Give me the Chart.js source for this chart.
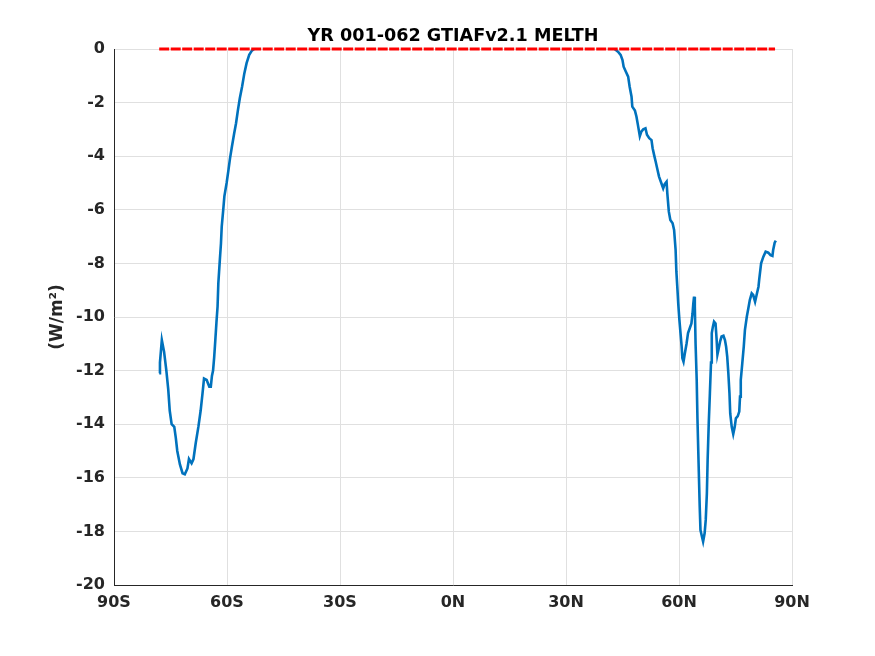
<!DOCTYPE html>
<html lang="en">
<head>
<meta charset="UTF-8">
<title>YR 001-062 GTIAFv2.1 MELTH</title>
<script src="https://cdn.jsdelivr.net/npm/chart.js@4/dist/chart.umd.min.js"></script>
<style>
  body {
    margin: 0;
    padding: 0;
    background-color: #ffffff;
  }
</style>
</head>
<body>
<canvas id="melthChart" width="875" height="656"></canvas>
<script>
// zonal mean melt heat flux (W/m^2) by latitude
// (null = no melt, hidden under the zero line)
const lats = [
  -78.0, -77.8, -77.3, -76.7, -76.1, -75.6, -75.2, -74.7, -74.0, -73.6,
  -73.2, -72.5, -71.8, -71.2, -70.5, -70.1, -69.4, -68.9, -68.3, -67.6,
  -67.0, -66.5, -66.1, -65.4, -64.7, -64.3, -64.0, -63.7, -63.4, -63.1,
  -62.8, -62.5, -62.3, -61.9, -61.6, -61.4, -61.0, -60.7, -60.1, -59.6,
  -59.2, -58.7, -58.1, -57.6, -57.1, -56.6, -56.0, -55.4, -54.8, -54.1,
  -53.4, -52.8,
  0, 42.9,
  43.8, 44.5, 45.0, 45.3, 45.9, 46.5, 46.9, 47.4, 47.6, 48.3,
  48.7, 49.1, 49.6, 50.0, 50.5, 51.1, 51.5, 52.1, 52.7, 53.0,
  53.4, 53.8, 54.2, 54.7, 55.3, 55.8, 56.2, 56.7, 56.9, 57.3,
  57.7, 58.3, 58.7, 59.1, 59.3, 59.6, 59.8, 60.1, 60.4, 60.7,
  60.9, 61.2, 61.5, 62.0, 62.4, 62.9, 63.3, 63.6, 63.8, 64.0,
  64.2, 64.4, 64.7, 64.9, 65.2, 65.5, 65.7, 66.1, 66.4, 66.8,
  67.1, 67.4, 67.6, 67.9, 68.2, 68.5, 68.7, 69.0, 69.3, 69.7,
  70.0, 70.2, 70.5, 70.9, 71.3, 71.8, 72.2, 72.5, 72.8, 73.1,
  73.4, 73.6, 74.0, 74.4, 74.8, 75.1, 75.6, 76.0, 76.2, 76.4,
  76.8, 77.2, 77.5, 78.0, 78.4, 78.8, 79.3, 79.7, 80.2, 80.6,
  81.1, 81.3, 81.8, 82.4, 83.0, 83.7, 84.3, 84.8, 85.0, 85.4,
  85.7
];
const melth = [
  -12.1, -11.7, -10.86, -11.3, -12.0, -12.7, -13.5, -14.0, -14.1, -14.5,
  -15.0, -15.5, -15.83, -15.87, -15.65, -15.3, -15.46, -15.3, -14.7, -14.1,
  -13.5, -12.85, -12.3, -12.35, -12.6, -12.6, -12.2, -12.0, -11.5, -10.86,
  -10.2, -9.6, -8.74, -7.87, -7.25, -6.63, -6.0, -5.5, -5.0, -4.5,
  -4.08, -3.65, -3.15, -2.77, -2.28, -1.84, -1.41, -0.91, -0.53, -0.22,
  -0.06, 0,
  null, 0,
  -0.1, -0.22, -0.41, -0.66, -0.85, -1.03, -1.41, -1.78, -2.15, -2.3,
  -2.52, -2.84, -3.25, -3.08, -3.0, -2.96, -3.2, -3.33, -3.4, -3.7,
  -3.96, -4.2, -4.45, -4.76, -5.0, -5.2, -5.04, -4.95, -5.39, -6.07,
  -6.38, -6.5, -6.75, -7.5, -8.3, -9.0, -9.5, -10.1, -10.6, -11.1,
  -11.54, -11.67, -11.4, -11.0, -10.6, -10.4, -10.24, -9.86, -9.5, -9.24,
  -9.6, -11.0, -12.35, -13.8, -15.46, -17.08, -17.95, -18.2, -18.38, -18.07,
  -17.57, -16.58, -15.34, -13.97, -12.85, -11.7, -10.6, -10.36, -10.17, -10.24,
  -10.86, -11.4, -11.2, -10.92, -10.73, -10.7, -10.86, -11.1, -11.48, -12.1,
  -12.85, -13.6, -14.1, -14.37, -14.1, -13.78, -13.7, -13.53, -12.97, -12.35,
  -11.73, -11.1, -10.49, -9.99, -9.68, -9.37, -9.12, -9.18, -9.43, -9.18,
  -8.87, -8.6, -8.0, -7.75, -7.56, -7.6, -7.69, -7.72, -7.5, -7.23,
  -7.15
];

// zero reference line
const zeroLats = [-78.0, 85.5];
const zeroVals = [0, 0];

const xTickLabels = ['90S', '60S', '30S', '0N', '30N', '60N', '90N'];
const xTickValues = [-90, -60, -30, 0, 30, 60, 90];

const chartTitle = 'YR 001-062 GTIAFv2.1 MELTH';

const tickFont = { family: 'DejaVu Sans', size: 16, weight: 'bold' };
const axisColor = '#262626';
const gridColor = '#e0e0e0';

// title centred over the plot area, like matlab does
const plotTitle = {
  id: 'plotTitle',
  afterDraw(chart) {
    const { ctx, chartArea } = chart;
    ctx.save();
    ctx.font = 'bold 17.6px "DejaVu Sans"';
    ctx.fillStyle = '#000000';
    ctx.textAlign = 'center';
    ctx.textBaseline = 'middle';
    ctx.fillText(chartTitle, (chartArea.left + chartArea.right) / 2, chartArea.top - 13);
    ctx.restore();
  }
};

new Chart(document.getElementById('melthChart').getContext('2d'), {
  type: 'line',
  data: {
    datasets: [
      {
        label: 'zero',
        data: zeroLats.map((x, i) => ({ x: x, y: zeroVals[i] })),
        borderColor: '#ff0000',
        borderWidth: 2.8,
        borderDash: [10, 1.5],
        pointRadius: 0,
        clip: false
      },
      {
        label: 'MELTH',
        data: lats.map((x, i) => ({ x: x, y: melth[i] })),
        borderColor: '#0072bd',
        borderWidth: 2.6,
        pointRadius: 0,
        tension: 0,
        spanGaps: false,
        clip: false
      }
    ]
  },
  options: {
    responsive: false,
    animation: false,
    layout: { padding: { left: 0, right: 83, top: 49, bottom: 0 } },
    plugins: {
      legend: { display: false },
      tooltip: { enabled: false },
      title: { display: false }
    },
    scales: {
      x: {
        type: 'linear',
        min: -90,
        max: 90,
        afterBuildTicks: scale => {
          scale.ticks = xTickValues.map(v => ({ value: v }));
        },
        afterFit: scale => { scale.height = 656 - 585; },
        ticks: {
          color: axisColor,
          font: tickFont,
          padding: 8,
          maxRotation: 0,
          callback: value => xTickLabels[xTickValues.indexOf(value)]
        },
        grid: { color: gridColor, drawTicks: false },
        border: { color: axisColor, width: 1 }
      },
      y: {
        min: -20,
        max: 0,
        afterFit: scale => { scale.width = 114; },
        ticks: {
          stepSize: 2,
          color: axisColor,
          font: tickFont,
          padding: 9
        },
        grid: { color: gridColor, drawTicks: false },
        border: { color: axisColor, width: 1 },
        title: {
          display: true,
          text: '(W/m\u00b2)',
          color: axisColor,
          font: { family: 'DejaVu Sans', size: 17, weight: 'bold', lineHeight: 1.2 },
          padding: { top: 47, bottom: 0 }
        }
      }
    }
  },
  plugins: [plotTitle]
});
</script>
</body>
</html>
